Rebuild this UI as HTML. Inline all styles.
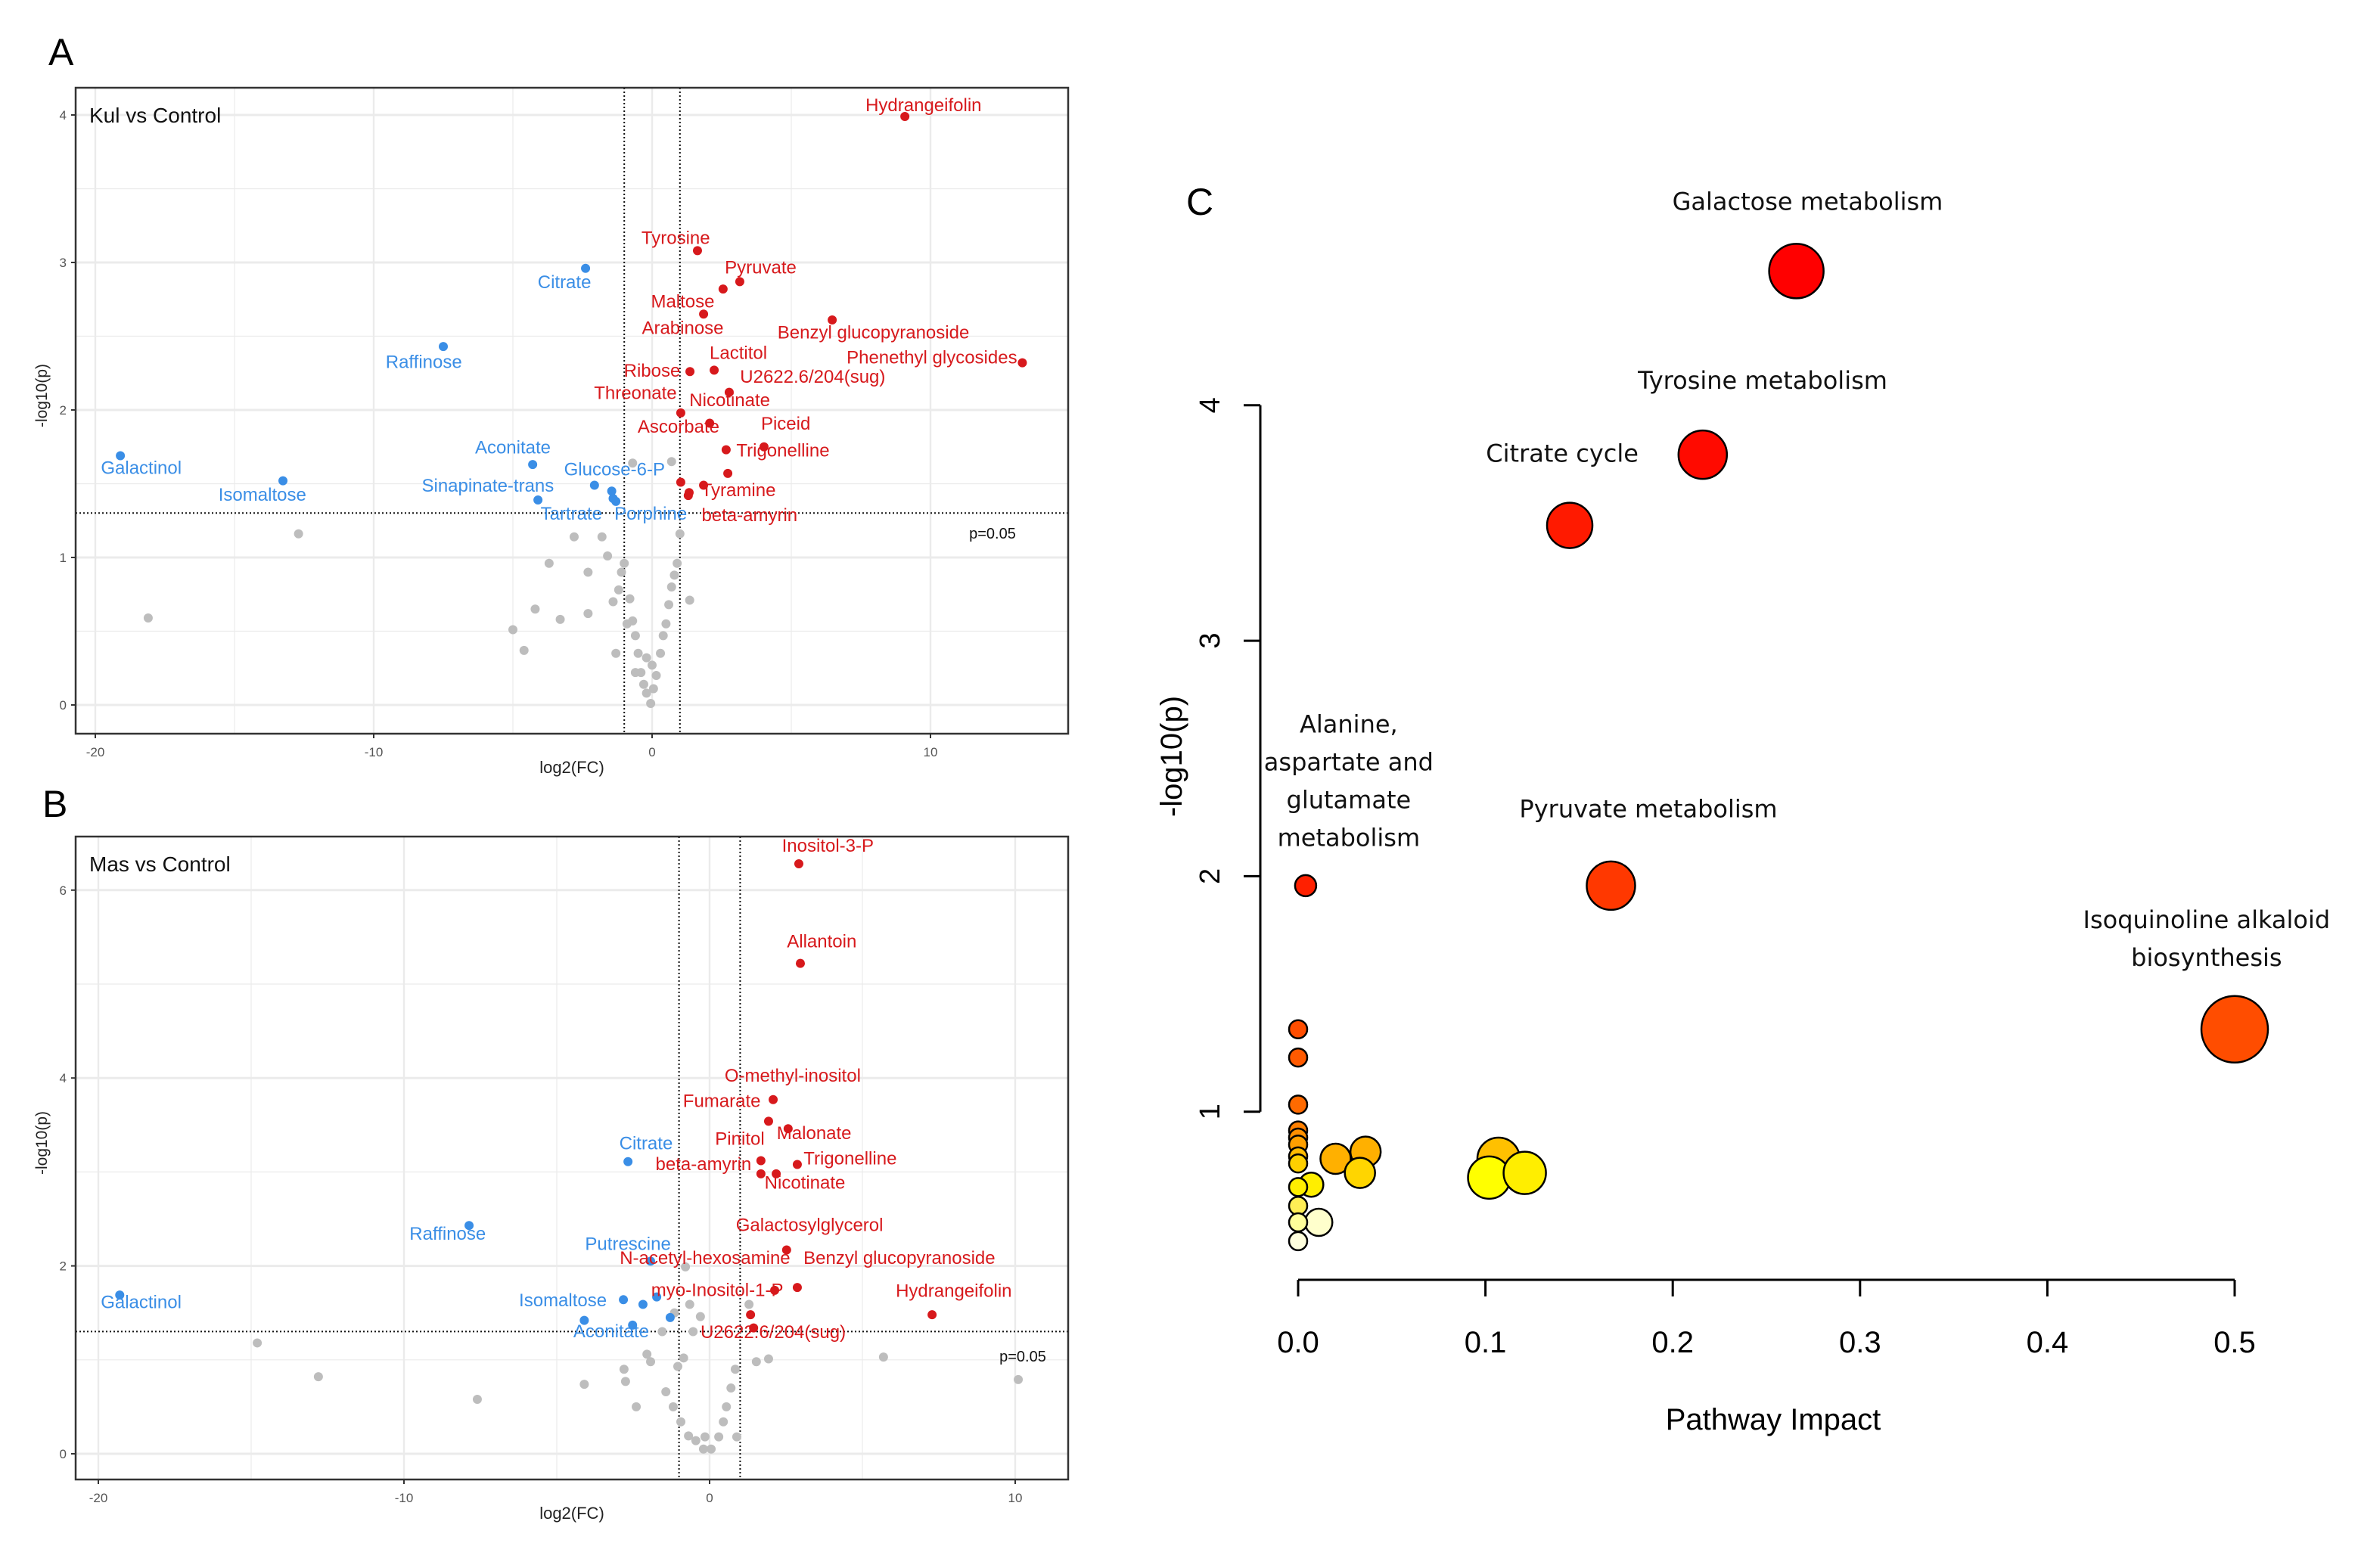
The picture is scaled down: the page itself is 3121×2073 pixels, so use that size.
<!DOCTYPE html>
<html><head><meta charset="utf-8"><style>
html,body{margin:0;padding:0;background:#fff;}
svg{display:block;font-family:"Liberation Sans",sans-serif;}
</style></head><body>
<svg id="fig" width="3121" height="2073" viewBox="0 0 3121 2073" xmlns="http://www.w3.org/2000/svg">
<rect width="3121" height="2073" fill="#fff"/>
<text x="64" y="86" font-size="50">A</text>
<text x="56" y="1080" font-size="50">B</text>
<text x="1568" y="284" font-size="50">C</text>
<g id="pa"></g>
<g id="pb"></g>
<g id="pc"></g>
</svg>
<script>
// ---- Panel A data ----
const aRedX=[9.08,1.63,3.15,2.55,1.85,6.47,13.3,1.36,2.23,2.77,1.03,2.07,4.02,2.66,2.72,1.03,1.85,1.3,1.33];
const aRedY=[3.99,3.08,2.87,2.82,2.65,2.61,2.32,2.26,2.27,2.12,1.98,1.91,1.75,1.73,1.57,1.51,1.49,1.42,1.44];
const aBlueX=[-2.39,-7.5,-19.1,-13.26,-4.29,-2.07,-1.45,-1.4,-1.3,-4.1];
const aBlueY=[2.96,2.43,1.69,1.52,1.63,1.49,1.45,1.40,1.38,1.39];
const aGrayX=[-18.1,-12.7,-5.0,-4.6,-4.2,-3.7,-3.3,-2.8,-2.3,-2.3,-1.8,-1.6,-1.4,-1.2,-1.1,-1.0,-1.3,-0.9,-0.8,-0.7,-0.6,-0.5,-0.4,-0.3,-0.2,-0.05,0.05,0.15,0.3,0.4,0.5,0.6,0.7,0.8,0.9,1.0,1.35,-0.7,0.7,0.0,-0.6,-0.2];
const aGrayY=[0.59,1.16,0.51,0.37,0.65,0.96,0.58,1.14,0.90,0.62,1.14,1.01,0.70,0.78,0.90,0.96,0.35,0.55,0.72,0.57,0.47,0.35,0.22,0.14,0.08,0.01,0.11,0.20,0.35,0.47,0.55,0.68,0.80,0.88,0.96,1.16,0.71,1.64,1.65,0.27,0.22,0.32];
const aLabText=["Hydrangeifolin","Tyrosine","Pyruvate","Maltose","Arabinose","Benzyl glucopyranoside","Phenethyl glycosides","Ribose","Lactitol","U2622.6/204(sug)","Threonate","Nicotinate","Piceid","Ascorbate","Trigonelline","Tyramine","beta-amyrin","Citrate","Raffinose","Galactinol","Isomaltose","Aconitate","Sinapinate-trans","Glucose-6-P","Tartrate","Porphine"];
const aLabX=[9.75,0.85,3.9,1.1,1.1,7.95,10.05,0.0,3.1,5.77,-0.6,2.79,4.8,0.95,4.7,3.1,3.5,-3.15,-8.2,-18.35,-14.0,-5.0,-5.9,-1.35,-2.9,-0.05];
const aLabY=[4.0,3.1,2.9,2.67,2.49,2.46,2.29,2.2,2.32,2.16,2.05,2.0,1.84,1.82,1.66,1.39,1.22,2.80,2.26,1.54,1.36,1.68,1.42,1.53,1.23,1.23];
const aLabCol=["r","r","r","r","r","r","r","r","r","r","r","r","r","r","r","r","r","b","b","b","b","b","b","b","b","b"];
// ---- Panel B data ----
const bRedX=[2.92,2.97,2.08,1.93,2.57,1.68,2.87,1.68,2.18,2.52,2.13,2.87,7.28,1.34,1.44];
const bRedY=[6.28,5.22,3.77,3.54,3.46,3.12,3.08,2.98,2.98,2.17,1.74,1.77,1.48,1.48,1.34];
const bBlueX=[-19.3,-7.87,-2.67,-1.93,-2.82,-2.18,-1.73,-4.1,-2.52,-1.29];
const bBlueY=[1.69,2.43,3.11,2.05,1.64,1.59,1.67,1.42,1.37,1.45];
const bGrayX=[-14.8,-12.8,-7.6,-4.1,-2.8,-2.75,-2.05,-1.55,-1.15,-0.85,-0.65,-2.4,-1.93,-1.43,-1.19,-0.94,-0.69,-0.45,-0.2,0.05,0.3,0.45,0.55,0.7,0.84,-1.04,-0.54,-0.3,1.29,1.53,1.93,5.69,10.1,-0.79,0.89,-0.15];
const bGrayY=[1.18,0.82,0.58,0.74,0.90,0.77,1.06,1.30,1.50,1.02,1.59,0.50,0.98,0.66,0.50,0.34,0.19,0.14,0.05,0.05,0.18,0.34,0.50,0.70,0.90,0.93,1.30,1.46,1.59,0.98,1.01,1.03,0.79,1.99,0.18,0.18];
const bLabText=["Inositol-3-P","Allantoin","O-methyl-inositol","Fumarate","Malonate","Pinitol","Trigonelline","beta-amyrin","Nicotinate","Galactosylglycerol","N-acetyl-hexosamine","Benzyl glucopyranoside","Hydrangeifolin","U2622.6/204(sug)","Citrate","Raffinose","Putrescine","Galactinol","Isomaltose","myo-Inositol-1-P","Aconitate"];
const bLabX=[3.87,3.67,2.72,0.4,3.42,0.99,4.6,-0.2,3.12,3.27,-0.15,6.21,7.99,2.08,-2.08,-8.57,-2.67,-18.6,-4.8,0.25,-3.22];
const bLabY=[6.37,5.35,3.92,3.65,3.31,3.25,3.04,2.98,2.78,2.33,1.98,1.98,1.63,1.19,3.2,2.24,2.13,1.51,1.53,1.64,1.2];
const bLabCol=["r","r","r","r","r","r","r","r","r","r","r","r","r","r","b","b","b","b","b","r","b"];
// ---- Panel C data ----
const cX=[0.266,0.216,0.145,0.167,0.50,0.004,0.0,0.0,0.0,0.0,0.0,0.0,0.0,0.0,0.0,0.0,0.0,0.0,0.02,0.036,0.033,0.007,0.011,0.107,0.102,0.121];
const cY=[4.57,3.79,3.49,1.96,1.35,1.96,1.35,1.23,1.03,0.92,0.89,0.86,0.81,0.78,0.68,0.60,0.53,0.45,0.80,0.83,0.74,0.69,0.53,0.80,0.72,0.74];
const cSize=[18,16,15,16,22,7,6,6,6,6,6,6,6,6,6,6,6,6,10,10,10,8,9,14,14,14];
const cColor=["#ff0000","#ff0a00","#ff1a00","#ff3800","#ff4d00","#ff2000","#ff4d00","#ff5a00","#ff6a00","#ff8000","#ff9000","#ffa000","#ffbb00","#ffd000","#ffee00","#ffee55","#ffff99","#ffffdd","#ffb000","#ffb000","#ffd500","#ffee00","#ffffcc","#ffc000","#ffff00","#ffee00"];
const cLabText=[["Galactose metabolism"],["Tyrosine metabolism"],["Citrate cycle"],["Pyruvate metabolism"],["Isoquinoline alkaloid","biosynthesis"],["Alanine,","aspartate and","glutamate","metabolism"]];
const cLabX=[0.272,0.248,0.141,0.187,0.485,0.027];
const cLabY=[4.83,4.07,3.76,2.25,1.78,2.61];
const cYTicks=[1,2,3,4];
const cXTicks=[0.0,0.1,0.2,0.3,0.4,0.5];

const NS="http://www.w3.org/2000/svg";
function mk(parent,tag,attrs,text){const e=document.createElementNS(NS,tag);for(const k in attrs)e.setAttribute(k,attrs[k]);if(text!==undefined)e.textContent=text;parent.appendChild(e);return e;}
const RED="#d7191c",BLUE="#3a8ee6";

function volcano(g,cfg){
  const sx=v=>cfg.x0+v*cfg.kx, sy=v=>cfg.y0-v*cfg.ky;
  const L=cfg.box[0],T=cfg.box[1],R=cfg.box[2],B=cfg.box[3];
  for(let v=cfg.xmin;v<=cfg.xmax;v+=cfg.xstep/2){const x=sx(v);if(x<L||x>R)continue;
    const gl=mk(g,"line",{x1:x,x2:x,y1:T,y2:B,stroke:"#ebebeb","stroke-width":(Math.abs(v/cfg.xstep-Math.round(v/cfg.xstep))<1e-6)?2.4:1.2});
    }
  for(let v=0;v<=cfg.ymax;v+=cfg.ystep/2){const y=sy(v);if(y<T||y>B)continue;
    const gl=mk(g,"line",{x1:L,x2:R,y1:y,y2:y,stroke:"#ebebeb","stroke-width":(Math.abs(v/cfg.ystep-Math.round(v/cfg.ystep))<1e-6)?3:1.2});
    }
  for(let v=cfg.xmin;v<=cfg.xmax;v+=cfg.xstep){const x=sx(v);
    const t=mk(g,"text",{x:x,y:B+30,"font-size":17,fill:"#555","text-anchor":"middle"},String(v));
    
    mk(g,"line",{x1:x,x2:x,y1:B,y2:B+6,stroke:"#333","stroke-width":2});}
  for(let v=0;v<=cfg.ymax;v+=cfg.ystep){const y=sy(v);
    const t=mk(g,"text",{x:L-12,y:y+6,"font-size":17,fill:"#555","text-anchor":"end"},String(v));
    
    mk(g,"line",{x1:L-6,x2:L,y1:y,y2:y,stroke:"#333","stroke-width":2});}
  [-1,1].forEach(v=>{const l=mk(g,"line",{x1:sx(v),x2:sx(v),y1:T,y2:B,stroke:"#111","stroke-width":2,"stroke-dasharray":"2,3"});
    });
  const yp=sy(1.30103);
  const pl=mk(g,"line",{x1:L,x2:R,y1:yp,y2:yp,stroke:"#111","stroke-width":2,"stroke-dasharray":"2,3"});
  
  const pt=mk(g,"text",{x:cfg.pLab[0],y:cfg.pLab[1],"font-size":20,fill:"#111","text-anchor":"middle"},"p=0.05");
  
  cfg.gx.forEach((v,i)=>{const c=mk(g,"circle",{cx:sx(v),cy:sy(cfg.gy[i]),r:6,fill:"#bdbdbd"});
    });
  cfg.bx.forEach((v,i)=>{const c=mk(g,"circle",{cx:sx(v),cy:sy(cfg.by[i]),r:6,fill:BLUE});
    });
  cfg.rx.forEach((v,i)=>{const c=mk(g,"circle",{cx:sx(v),cy:sy(cfg.ry[i]),r:6,fill:RED});
    });
  cfg.lt.forEach((s,i)=>{const t=mk(g,"text",{x:sx(cfg.lx[i]),y:sy(cfg.ly[i])-5,"font-size":24,fill:cfg.lc[i]=="r"?RED:BLUE,"text-anchor":"middle"},s);
    });
  const f=mk(g,"rect",{x:L,y:T,width:R-L,height:B-T,fill:"none",stroke:"#333","stroke-width":2.5});
  
  const tt=mk(g,"text",{x:L+18,y:T+46,"font-size":28,fill:"#111"},cfg.title);
  
  const xt=mk(g,"text",{x:756,y:B+52,"font-size":22,fill:"#222","text-anchor":"middle"},"log2(FC)");
  
  const yt=mk(g,"text",{x:0,y:0,"font-size":21,fill:"#222","text-anchor":"middle",transform:`translate(${L-38},${(T+B)/2-20}) rotate(-90)`},"-log10(p)");
  
}
volcano(document.getElementById("pa"),{box:[100,116,1412,970],x0:862,kx:36.8,y0:932,ky:195,xmin:-20,xmax:10,xstep:10,ymax:4,ystep:1,
  gx:aGrayX,gy:aGrayY,bx:aBlueX,by:aBlueY,rx:aRedX,ry:aRedY,lt:aLabText,lx:aLabX,ly:aLabY,lc:aLabCol,title:"Kul vs Control",pLab:[1312,712]});
volcano(document.getElementById("pb"),{box:[100,1106,1412,1956],x0:938,kx:40.4,y0:1922,ky:124.2,xmin:-20,xmax:10,xstep:10,ymax:6,ystep:2,
  gx:bGrayX,gy:bGrayY,bx:bBlueX,by:bBlueY,rx:bRedX,ry:bRedY,lt:bLabText,lx:bLabX,ly:bLabY,lc:bLabCol,title:"Mas vs Control",pLab:[1352,1800]});

(function(){
  const g=document.getElementById("pc");
  const sx=v=>1716+v*2476, sy=v=>1781-v*311.3;
  const ya=mk(g,"line",{x1:1666,x2:1666,y1:sy(4),y2:sy(1),stroke:"#000","stroke-width":3});
  
  cYTicks.forEach(v=>{mk(g,"line",{x1:1644,x2:1666,y1:sy(v),y2:sy(v),stroke:"#000","stroke-width":3});
    const t=mk(g,"text",{x:0,y:0,"font-size":38,"text-anchor":"middle",transform:`translate(1612,${sy(v)}) rotate(-90)`},String(v));
    });
  const xa=mk(g,"line",{x1:sx(0),x2:sx(0.5),y1:1692,y2:1692,stroke:"#000","stroke-width":3});
  
  cXTicks.forEach(v=>{mk(g,"line",{x1:sx(v),x2:sx(v),y1:1692,y2:1714,stroke:"#000","stroke-width":3});
    const t=mk(g,"text",{x:sx(v),y:1788,"font-size":40,"text-anchor":"middle"},v.toFixed(1));
    });
  const xt=mk(g,"text",{x:2344,y:1890,"font-size":40,"text-anchor":"middle"},"Pathway Impact");
  
  const yt=mk(g,"text",{x:0,y:0,"font-size":40,"text-anchor":"middle",transform:`translate(1562,1000) rotate(-90)`},"-log10(p)");
  
  const idx=cX.map((_,i)=>i).sort((a,b)=>cSize[b]-cSize[a]);
  idx.forEach(i=>{const c=mk(g,"circle",{cx:sx(cX[i]),cy:sy(cY[i]),r:cSize[i]*2,fill:cColor[i],stroke:"#000","stroke-width":2.5});
    });
  cLabText.forEach((lines,i)=>{lines.forEach((s,j)=>{
    const t=mk(g,"text",{x:sx(cLabX[i]),y:sy(cLabY[i])+j*50,"font-size":32,"text-anchor":"middle",fill:"#111","font-family":"DejaVu Sans, Liberation Sans, sans-serif"},s);
    });});
})();
</script>
</body></html>
